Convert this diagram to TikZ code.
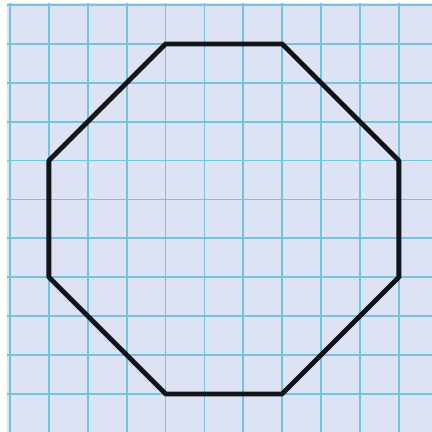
\documentclass[tikz,border=0pt]{standalone}
\definecolor{paper}{HTML}{DDE3F4}
\definecolor{gridline}{HTML}{72C2E2}
\definecolor{edge}{HTML}{111418}
\begin{document}
\begin{tikzpicture}[
  gridstyle/.style={draw=gridline, line width=1.3pt},
  shapeline/.style={draw=edge, line width=3.5pt, line join=round, line cap=round}]
\useasboundingbox (-0.257,-10.98) rectangle (10.85,0.129);
\fill[white] (-0.257,-10.98) rectangle (10.85,0.129);
\fill[paper] (-0.08,-10.98) rectangle (10.85,0.06);
\foreach \i in {0,...,11} {
  \draw[gridstyle] (\i,-10.98) -- (\i,0.06);
  \draw[gridstyle] (-0.08,-\i) -- (10.85,-\i);
}
\coordinate (p1) at (4,-1);
\coordinate (p2) at (7,-1);
\coordinate (p3) at (10,-4);
\coordinate (p4) at (10,-7);
\coordinate (p5) at (7,-10);
\coordinate (p6) at (4,-10);
\coordinate (p7) at (1,-7);
\coordinate (p8) at (1,-4);
\draw[shapeline] (p1) -- (p2) -- (p3) -- (p4) -- (p5) -- (p6) -- (p7) -- (p8) -- cycle;
\end{tikzpicture}
\end{document}
